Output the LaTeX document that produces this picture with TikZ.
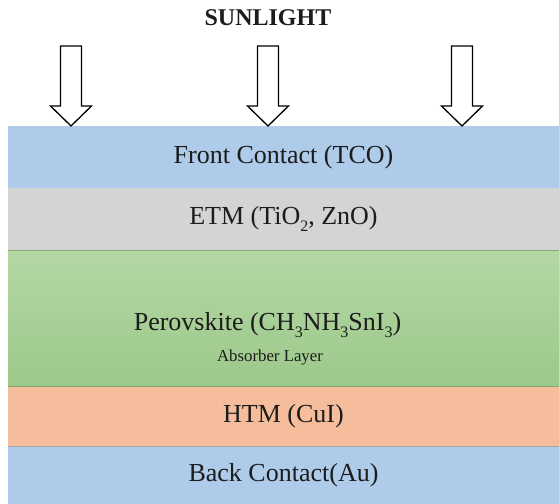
\documentclass[tikz,border=0pt]{standalone}
\usepackage{fontspec}
\setmainfont{Liberation Serif}
\definecolor{cblue}{HTML}{AECBEA}
\definecolor{cgray}{HTML}{D4D4D4}
\definecolor{cgreentop}{HTML}{B4D7A4}
\definecolor{cgreenbot}{HTML}{9DC98A}
\definecolor{corange}{HTML}{F5BD9B}
\definecolor{ctext}{HTML}{1C1C1C}
\newcommand\lsub[1]{\raisebox{-0.3em}{\fontsize{16bp}{16bp}\selectfont #1}}
\begin{document}
\begin{tikzpicture}[x=1bp,y=-1bp,
  layer/.style={rectangle, minimum width=551bp, inner sep=0pt, outer sep=0pt, text=ctext,
     font=\fontsize{26bp}{30bp}\selectfont},
  sunarrow/.style={draw=black, line width=1.3bp, fill=white, line join=miter}]
\useasboundingbox (0,0) rectangle (559,504);
\fill[white] (0,0) rectangle (559,504);
% layers
\node[layer, fill=cblue, minimum height=62bp] (fc) at (283.5,157) {Front Contact (TCO)};
\node[layer, fill=cgray, minimum height=62bp] (etm) at (283.5,219) {ETM (TiO\lsub{2}, ZnO)};
\shade[top color=cgreentop, bottom color=cgreenbot] (8,250) rectangle (559,386);
\node[layer, minimum height=136bp] (pero) at (283.5,318) {};
\draw[draw=cgreenbot!85!black, line width=1bp] (8,250.5) -- (559,250.5);
\node[text=ctext, font=\fontsize{26bp}{30bp}\selectfont] (perot) at (267.5,325) {Perovskite (CH\lsub{3}NH\lsub{3}SnI\lsub{3})};
\node[text=ctext, font=\fontsize{16.8bp}{20bp}\selectfont] (abs) at (270,357) {Absorber Layer};
\node[layer, fill=corange, minimum height=60bp] (htm) at (283.5,416) {HTM (CuI)};
\draw[draw=cgreenbot!85!black, line width=1bp] (8,386) -- (559,386);
\node[layer, fill=cblue, minimum height=58bp] (bc) at (283.5,475) {Back Contact(Au)};
\draw[draw=gray!70, line width=1bp] (8,446) -- (559,446);
% sunlight
\node[text=ctext, font=\bfseries\fontsize{24bp}{26bp}\selectfont] (sun) at (268,18) {SUNLIGHT};
\foreach \cx in {71,268,462}{
  \draw[sunarrow] (\cx-10.5,46) -- (\cx+10.5,46) -- (\cx+10.5,106) -- (\cx+20.5,106)
     -- (\cx,126) -- (\cx-20.5,106) -- (\cx-10.5,106) -- cycle;
}
\end{tikzpicture}
\end{document}
